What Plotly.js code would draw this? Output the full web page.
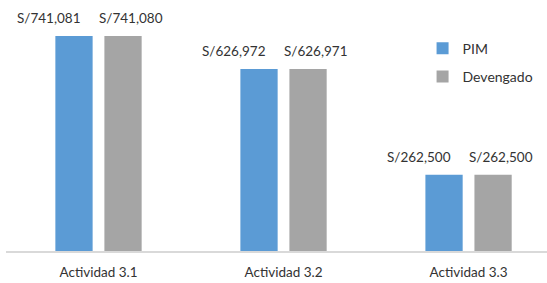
<!DOCTYPE html>
<html>
<head>
<meta charset="utf-8">
<script src="https://cdn.plot.ly/plotly-3.0.1.min.js"></script>
<style>html,body{margin:0;padding:0;background:#fff;}#chart{width:547px;height:283px;}</style>
</head>
<body>
<div id="chart"></div>
<script>
const categories = ["Actividad 3.1", "Actividad 3.2", "Actividad 3.3"];
const pim = [741081, 626972, 262500];
const devengado = [741080, 626971, 262500];
const seriesNames = ["PIM", "Devengado"];
const labelPim = ["S/741,081", "S/626,972", "S/262,500"];
const labelDev = ["S/741,080", "S/626,971", "S/262,500"];

const font = "Lato, 'Open Sans', sans-serif";
const txtColor = "#333333";

const traces = [
  {type: "bar", name: seriesNames[0], x: categories, y: pim, marker: {color: "#5B9BD5"}, legendgroup: "a", hoverinfo: "none"},
  {type: "bar", name: seriesNames[1], x: categories, y: devengado, marker: {color: "#A5A5A5"}, legendgroup: "b", hoverinfo: "none"}
];

const annotations = [];
categories.forEach((c, i) => {
  annotations.push({x: c, y: pim[i], xref: "x", yref: "y", text: labelPim[i], showarrow: false,
    xanchor: "center", yanchor: "bottom", xshift: -50, yshift: 8, font: {family: font, size: 13.5, color: txtColor}});
  annotations.push({x: c, y: devengado[i], xref: "x", yref: "y", text: labelDev[i], showarrow: false,
    xanchor: "center", yanchor: "bottom", xshift: 32, yshift: 8, font: {family: font, size: 13.5, color: txtColor}});
});

const layout = {
  width: 547, height: 283,
  margin: {l: 6, r: 0, t: 0, b: 32},
  paper_bgcolor: "#fff", plot_bgcolor: "#fff",
  barmode: "group", bargap: 0.47, bargroupgap: 0.24,
  showlegend: true,
  legend: {x: 0.77, xanchor: "left", y: 0.87, yanchor: "top", font: {family: font, size: 14, color: txtColor},
    tracegroupgap: 7, traceorder: "grouped", bgcolor: "rgba(0,0,0,0)"},
  xaxis: {type: "category", range: [-0.5, 2.424], showline: true, linecolor: "#d9d9d9", linewidth: 1.5,
    ticks: "", tickfont: {family: font, size: 13.5, color: txtColor}, ticklabelstandoff: 8, fixedrange: true},
  yaxis: {range: [0, 865000], visible: false, showgrid: false, zeroline: false, fixedrange: true},
  annotations: annotations,
  font: {family: font}
};

Plotly.newPlot("chart", traces, layout, {displayModeBar: false, staticPlot: true});
</script>
</body>
</html>
